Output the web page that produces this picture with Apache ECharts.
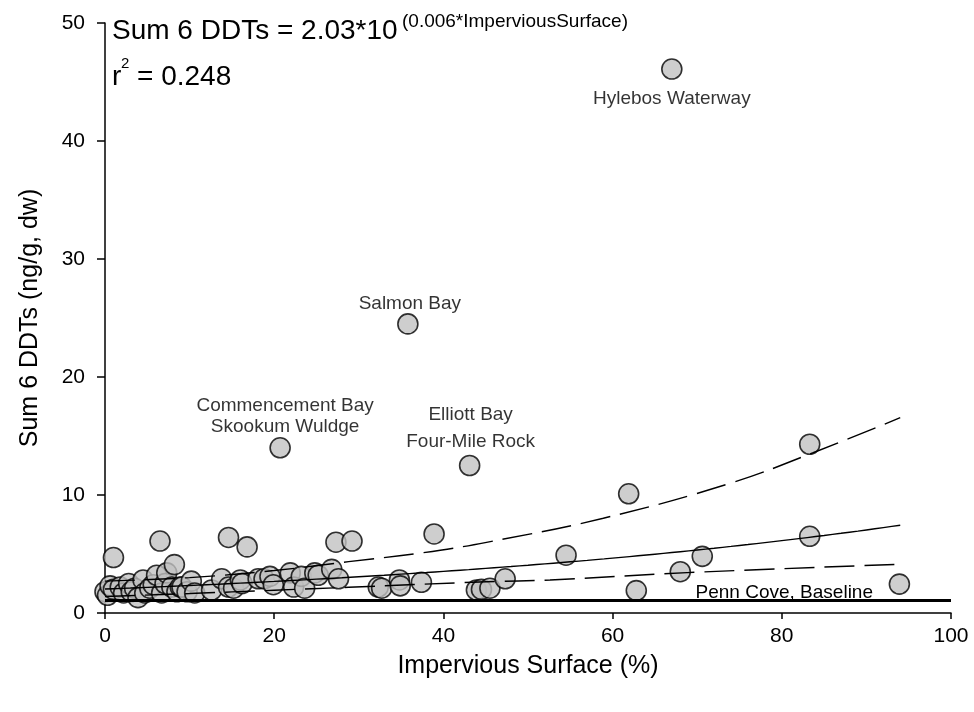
<!DOCTYPE html>
<html>
<head>
<meta charset="utf-8">
<script src="https://cdn.jsdelivr.net/npm/echarts@6/dist/echarts.min.js"></script>
<style>
  html, body { margin: 0; padding: 0; background: #fff; }
  #chart { width: 974px; height: 712px; }
</style>
</head>
<body>
<div id="chart"></div>
<script>
// Impervious surface (%) and summed DDT concentration (ng/g dw) per sampling site
const impervious = [
  0.0, 0.3, 0.6, 1.0, 1.0, 1.8, 2.2, 2.8, 3.1, 3.5, 3.9, 4.5, 4.7, 5.3, 5.7, 6.1,
  6.5, 6.7, 7.1, 7.3, 7.9, 8.2, 8.5, 8.9, 9.1, 9.7, 10.2, 10.6, 12.6, 13.8, 14.6,
  14.6, 15.2, 16.0, 16.2, 16.8, 18.1, 18.8, 19.5, 19.9, 21.9, 22.3, 23.2, 23.6,
  24.8, 25.2, 26.8, 27.3, 27.6, 29.2, 32.3, 32.7, 34.8, 34.9, 37.4, 38.9, 43.9,
  44.5, 45.5, 47.3, 54.5, 61.9, 62.8, 68.0, 70.6, 83.3, 83.3, 93.9
];
const sumDDTs = [
  1.8, 1.5, 2.3, 2.0, 4.7, 2.2, 1.7, 2.5, 1.8, 2.1, 1.3, 2.8, 1.7, 2.1, 2.4, 3.2,
  6.1, 1.7, 2.5, 3.4, 2.2, 4.1, 1.8, 2.2, 2.2, 1.8, 2.7, 1.7, 1.95, 2.9, 2.2,
  6.4, 2.1, 2.8, 2.5, 5.6, 2.9, 2.9, 3.1, 2.4, 3.4, 2.2, 3.1, 2.1,
  3.4, 3.2, 3.7, 6.0, 2.9, 6.1, 2.2, 2.1, 2.8, 2.3, 2.6, 6.7, 1.95,
  2.0, 2.1, 2.9, 4.9, 10.1, 1.9, 3.5, 4.8, 14.3, 6.5, 2.45
];

// Named sites
const siteNames = ['Hylebos Waterway', 'Salmon Bay', 'Commencement Bay\nSkookum Wuldge', 'Elliott Bay\nFour-Mile Rock'];
const siteImpervious = [67.0, 35.8, 20.7, 43.1];
const siteDDTs = [46.1, 24.5, 14.0, 12.5];

// Exponential fit: DDTs = a * 10^(b * impervious)
const fitA = 2.03;
const fitB = 0.006;
const fitR2 = 0.248;
const fitRange = [0, 94];

// Confidence band limits
const upperBandX = [0, 10, 20, 28.8, 37.6, 45.1, 58.9, 73.9, 83.7, 94];
const upperBandY = [2.7, 3.0, 3.6, 4.35, 5.11, 5.99, 8.03, 10.99, 13.58, 16.55];
const lowerBandX = [0, 10, 20, 28.8, 45.1, 52.6, 68.8, 94];
const lowerBandY = [1.4, 1.65, 1.93, 2.18, 2.65, 2.8, 3.42, 4.13];

// Reference (baseline) level
const baselineLevel = 1.1;
const baselineName = 'Penn Cove, Baseline';

const xTicks = [0, 20, 40, 60, 80, 100];
const yTicks = [0, 10, 20, 30, 40, 50];

const FONT = "'Liberation Sans', Arial, Helvetica, sans-serif";

const pointData = impervious.map((x, i) => [x, sumDDTs[i]]);

const fitData = [];
for (let x = fitRange[0]; x <= fitRange[1] + 1e-9; x += 1) {
  fitData.push([x, fitA * Math.pow(10, fitB * x)]);
}

const siteLabelStyle = {
  'Hylebos Waterway': { offset: [0, 30], lineHeight: 22 },
  'Salmon Bay': { offset: [2, -20], lineHeight: 22 },
  'Commencement Bay\nSkookum Wuldge': { offset: [5, -32], lineHeight: 21 },
  'Elliott Bay\nFour-Mile Rock': { offset: [1, -37], lineHeight: 27 }
};

const siteData = siteNames.map((name, i) => ({
  value: [siteImpervious[i], siteDDTs[i]],
  label: {
    show: true,
    position: 'inside',
    formatter: name,
    offset: siteLabelStyle[name].offset,
    lineHeight: siteLabelStyle[name].lineHeight,
    color: '#000',
    fontFamily: FONT,
    fontSize: 19,
    align: 'center'
  }
}));

const markerStyle = { color: '#c2c2c2', borderColor: '#000', borderWidth: 1.6 };

const chart = echarts.init(document.getElementById('chart'), null, { renderer: 'canvas' });

chart.setOption({
  animation: false,
  backgroundColor: '#fff',
  grid: { left: 105, right: 23, top: 23, bottom: 99, containLabel: false },
  xAxis: {
    type: 'value',
    min: xTicks[0], max: xTicks[xTicks.length - 1], interval: 20,
    name: 'Impervious Surface (%)',
    nameLocation: 'middle',
    nameGap: 41,
    nameTextStyle: { fontFamily: FONT, fontSize: 25, color: '#000' },
    axisLine: { lineStyle: { color: '#000', width: 1.5 } },
    axisTick: { show: true, length: 6, lineStyle: { color: '#000', width: 1.5 } },
    axisLabel: { fontFamily: FONT, fontSize: 21, color: '#000', margin: 13 },
    splitLine: { show: false }
  },
  yAxis: {
    type: 'value',
    min: yTicks[0], max: yTicks[yTicks.length - 1], interval: 10,
    name: 'Sum 6 DDTs (ng/g, dw)',
    nameLocation: 'middle',
    nameGap: 62,
    nameTextStyle: { fontFamily: FONT, fontSize: 25, color: '#000' },
    axisLine: { show: true, lineStyle: { color: '#000', width: 1.5 } },
    axisTick: { show: true, length: 8, lineStyle: { color: '#000', width: 1.5 } },
    axisLabel: { fontFamily: FONT, fontSize: 21, color: '#000', margin: 20 },
    splitLine: { show: false }
  },
  series: [
    {
      type: 'scatter',
      data: pointData,
      symbol: 'circle',
      symbolSize: 20,
      itemStyle: markerStyle,
      z: 2
    },
    {
      type: 'scatter',
      data: siteData,
      symbol: 'circle',
      symbolSize: 20,
      itemStyle: markerStyle,
      z: 2
    },
    {
      type: 'line',
      data: fitData,
      showSymbol: false,
      smooth: false,
      lineStyle: { color: '#000', width: 1.4 },
      z: 5
    },
    {
      type: 'line',
      data: upperBandX.map((x, i) => [x, upperBandY[i]]),
      showSymbol: false,
      smooth: 0.4,
      lineStyle: { color: '#000', width: 1.4, type: [30, 10] },
      z: 5
    },
    {
      type: 'line',
      data: lowerBandX.map((x, i) => [x, lowerBandY[i]]),
      showSymbol: false,
      smooth: 0.4,
      lineStyle: { color: '#000', width: 1.4, type: [30, 10] },
      z: 5
    },
    {
      type: 'line',
      data: [],
      z: 6,
      markLine: {
        silent: true,
        symbol: 'none',
        data: [{ yAxis: baselineLevel }],
        lineStyle: { color: '#000', width: 3, type: 'solid' },
        label: {
          show: true,
          position: 'insideEndTop',
          formatter: baselineName,
          color: '#000',
          fontFamily: FONT,
          fontSize: 19,
          distance: -2,
          padding: [0, 80, 0, 0]
        }
      }
    }
  ],
  graphic: [
    {
      type: 'text', left: 112, top: 17, z: 10,
      style: { text: 'Sum 6 DDTs = ' + fitA.toFixed(2) + '*10', font: '28px ' + FONT, fill: '#000' }
    },
    {
      type: 'text', left: 402, top: 12, z: 10,
      style: { text: '(' + fitB.toFixed(3) + '*ImperviousSurface)', font: '19px ' + FONT, fill: '#000' }
    },
    {
      type: 'text', left: 112, top: 63, z: 10,
      style: { text: 'r', font: '28px ' + FONT, fill: '#000' }
    },
    {
      type: 'text', left: 121, top: 56, z: 10,
      style: { text: '2', font: '15px ' + FONT, fill: '#000' }
    },
    {
      type: 'text', left: 137, top: 63, z: 10,
      style: { text: '= ' + fitR2.toFixed(3), font: '28px ' + FONT, fill: '#000' }
    }
  ]
});
</script>
</body>
</html>
